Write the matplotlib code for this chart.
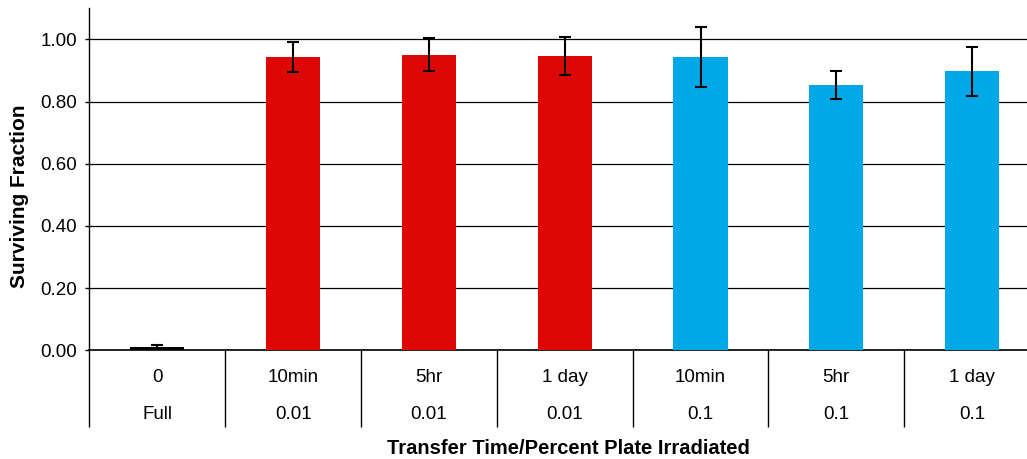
import numpy as np
import matplotlib
matplotlib.use("Agg")
import matplotlib.pyplot as plt

# data
times = ["0", "10min", "5hr", "1 day", "10min", "5hr", "1 day"]
percents = ["Full", "0.01", "0.01", "0.01", "0.1", "0.1", "0.1"]
fraction = [0.011, 0.943, 0.950, 0.946, 0.943, 0.853, 0.898]
err = [0.006, 0.049, 0.053, 0.061, 0.097, 0.044, 0.079]
colors = ["#000000", "#DD0806", "#DD0806", "#DD0806", "#00A9E6", "#00A9E6", "#00A9E6"]

plt.rcParams["font.family"] = ["Liberation Sans", "DejaVu Sans"]

fig = plt.figure(figsize=(10.27, 4.59), dpi=100)
ax = fig.add_axes([0.0870, 0.2368, 0.9257, 0.7451])

x = np.arange(len(fraction))
ax.bar(x, fraction, width=0.40, color=colors, zorder=3)
ax.errorbar(x, fraction, yerr=err, fmt="none", ecolor="black",
            elinewidth=1.5, capsize=4, capthick=1.5, zorder=4)

ax.set_xlim(-0.5, len(fraction) - 0.5)
ax.set_ylim(0, 1.1)
ax.set_yticks(np.arange(0, 1.01, 0.2))
ax.set_yticklabels([f"{v:.2f}" for v in np.arange(0, 1.01, 0.2)], fontsize=13.5)
ax.tick_params(axis="y", length=3, width=1, pad=6)
ax.set_xticks([])
ax.yaxis.grid(True, color="black", linewidth=0.9, zorder=0)

for s in ["top", "right"]:
    ax.spines[s].set_visible(False)
ax.spines["bottom"].set_linewidth(1.2)
ax.spines["left"].set_linewidth(1.0)

# category table below the axis
trans = ax.get_xaxis_transform()
ax.vlines(np.arange(-0.5, len(fraction), 1), -0.2243, 0, transform=trans,
          colors="black", linewidth=1.0, clip_on=False)
for i in range(len(fraction)):
    ax.text(i, -0.0801, times[i], transform=trans, ha="center", va="center", fontsize=13.5)
    ax.text(i, -0.1863, percents[i], transform=trans, ha="center", va="center", fontsize=13.5)

ax.set_ylabel("Surviving Fraction", fontsize=15, fontweight="bold")
ax.yaxis.set_label_coords(-0.0637, 0.45)
fig.text(568.5 / 1027, 1 - 449 / 459, "Transfer Time/Percent Plate Irradiated",
         ha="center", va="center", fontsize=14.5, fontweight="bold")

fig.savefig("out.png", dpi=100)
